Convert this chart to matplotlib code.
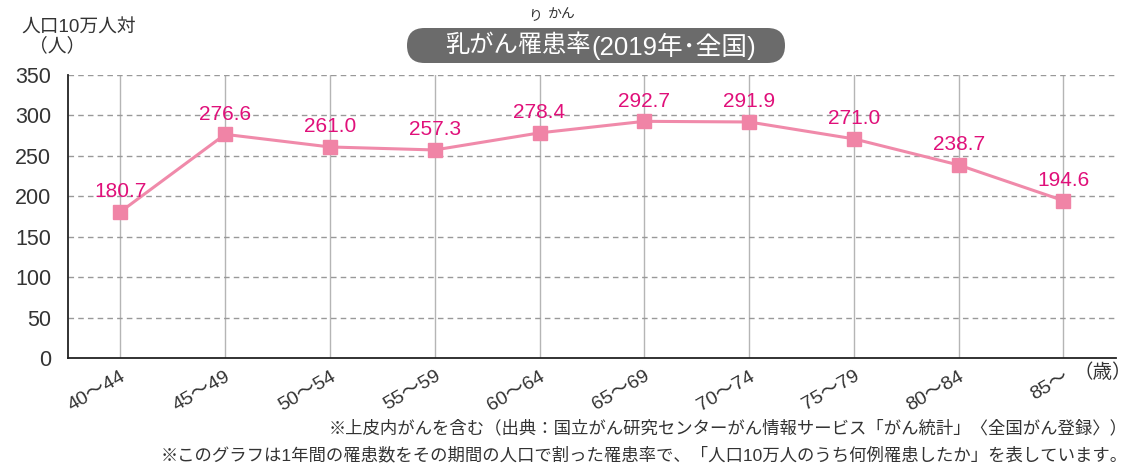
import matplotlib.pyplot as plt
from matplotlib.patches import FancyBboxPatch

plt.rcParams['font.family'] = ['Liberation Sans', 'Noto Sans CJK JP', 'DejaVu Sans']

ages = ["40〜44", "45〜49", "50〜54", "55〜59", "60〜64",
        "65〜69", "70〜74", "75〜79", "80〜84", "85〜"]
rates = [180.7, 276.6, 261.0, 257.3, 278.4, 292.7, 291.9, 271.0, 238.7, 194.6]
yticks = [0, 50, 100, 150, 200, 250, 300, 350]

fig = plt.figure(figsize=(11.48, 4.67), dpi=100)
ax = fig.add_axes([0.0592, 0.2334, 0.9128, 0.606])

x = list(range(len(rates)))
for xi in x:
    ax.axvline(xi, color='#b5b5b5', lw=1.0, zorder=1)
for yv in yticks[1:]:
    ax.axhline(yv, color='#999999', lw=1.0, ls=(0, (4, 3)), zorder=1)

ax.plot(x, rates, color='#f08aaa', lw=2.2, marker='s', markersize=10,
        markerfacecolor='#f084a6', markeredgecolor='#f084a6', zorder=3)
for xi, v in zip(x, rates):
    ax.text(xi, v + 13, f"{v:.1f}", ha='center', va='bottom',
            fontsize=15, color='#e0107a', zorder=4)

ax.set_xlim(-0.5, 9.5)
ax.set_ylim(0, 350)
ax.set_yticks(yticks)
ax.set_yticklabels([str(t) for t in yticks], fontsize=15.5, color='#333333')
ax.set_xticks(x)
ax.set_xticklabels(ages, fontsize=14, color='#333333', rotation=30,
                   ha='right', rotation_mode='anchor')
ax.tick_params(axis='y', length=0, pad=12)
ax.tick_params(axis='x', length=0, pad=7)
for s in ['top', 'right']:
    ax.spines[s].set_visible(False)
ax.spines['left'].set_color('#222222')
ax.spines['bottom'].set_color('#222222')
ax.spines['left'].set_linewidth(1.3)
ax.spines['bottom'].set_linewidth(1.3)

fig.text(0.935, 0.203, "（歳）", fontsize=14, color='#333333', ha='left', va='center')
fig.text(0.019, 0.94, "人口10万人対", fontsize=13.5, color='#333333', ha='left', va='center')
fig.text(0.025, 0.90, "（人）", fontsize=13.5, color='#333333', ha='left', va='center')

# title box, drawn on a pixel-space overlay
ov = fig.add_axes([0, 0, 1, 1], zorder=-1)
ov.set_xlim(0, 1148)
ov.set_ylim(467, 0)
ov.axis('off')
box = FancyBboxPatch((407, 28), 378, 35,
                     boxstyle="round,pad=0,rounding_size=17.5",
                     facecolor='#6b6b6b', edgecolor='none')
ov.add_patch(box)
ov.text(445, 46, "乳がん罹患率", fontsize=17.5, color='white',
        ha='left', va='center')
ov.text(591, 46, "(2019年･全国)", fontsize=18.5, color='white',
        ha='left', va='center')
ov.text(535, 15, "り", fontsize=10, color='#333333', ha='center', va='center')
ov.text(548, 15, "かん", fontsize=10, color='#333333', ha='left', va='center')

fig.text(0.982, 0.0835, "※上皮内がんを含む（出典：国立がん研究センターがん情報サービス「がん統計」〈全国がん登録〉）",
         fontsize=12.5, color='#333333', ha='right', va='center')
fig.text(0.982, 0.0257, "※このグラフは1年間の罹患数をその期間の人口で割った罹患率で、「人口10万人のうち何例罹患したか」を表しています。",
         fontsize=12.5, color='#333333', ha='right', va='center')

fig.savefig("out.png", dpi=100)
